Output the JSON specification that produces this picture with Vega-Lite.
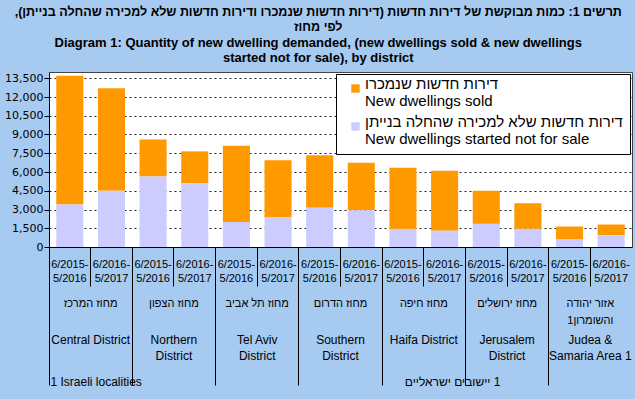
{
  "$schema": "https://vega.github.io/schema/vega-lite/v6.json",
  "width": 583,
  "height": 175,
  "autosize": "none",
  "padding": {"left": 49, "top": 72, "right": 3, "bottom": 152},
  "background": "#A6CAF0",
  "title": {
    "text": [
      "תרשים 1: כמות מבוקשת של דירות חדשות (דירות חדשות שנמכרו ודירות חדשות שלא למכירה שהחלה בנייתן),‏",
      "לפי  מחוז"
    ],
    "subtitle": [
      "Diagram 1:  Quantity of new dwelling demanded, (new  dwellings sold & new dwellings",
      "started not for sale), by district"
    ],
    "anchor": "middle",
    "frame": "bounds",
    "font": "Liberation Sans",
    "fontSize": 12.5,
    "fontWeight": "bold",
    "lineHeight": 15,
    "color": "black",
    "subtitleFont": "Liberation Sans",
    "subtitleFontSize": 13,
    "subtitleFontWeight": "bold",
    "subtitleLineHeight": 15.5,
    "subtitleColor": "black",
    "subtitlePadding": 3,
    "offset": 7
  },
  "datasets": {
    "bars": [
      {"key": "Central 2015/16", "s": "sold", "value": 10300},
      {"key": "Central 2015/16", "s": "nfs", "value": 3400},
      {"key": "Central 2016/17", "s": "sold", "value": 8200},
      {"key": "Central 2016/17", "s": "nfs", "value": 4500},
      {"key": "Northern 2015/16", "s": "sold", "value": 2950},
      {"key": "Northern 2015/16", "s": "nfs", "value": 5650},
      {"key": "Northern 2016/17", "s": "sold", "value": 2550},
      {"key": "Northern 2016/17", "s": "nfs", "value": 5100},
      {"key": "Tel Aviv 2015/16", "s": "sold", "value": 6100},
      {"key": "Tel Aviv 2015/16", "s": "nfs", "value": 2000},
      {"key": "Tel Aviv 2016/17", "s": "sold", "value": 4550},
      {"key": "Tel Aviv 2016/17", "s": "nfs", "value": 2400},
      {"key": "Southern 2015/16", "s": "sold", "value": 4200},
      {"key": "Southern 2015/16", "s": "nfs", "value": 3150},
      {"key": "Southern 2016/17", "s": "sold", "value": 3800},
      {"key": "Southern 2016/17", "s": "nfs", "value": 2950},
      {"key": "Haifa 2015/16", "s": "sold", "value": 4900},
      {"key": "Haifa 2015/16", "s": "nfs", "value": 1450},
      {"key": "Haifa 2016/17", "s": "sold", "value": 4800},
      {"key": "Haifa 2016/17", "s": "nfs", "value": 1300},
      {"key": "Jerusalem 2015/16", "s": "sold", "value": 2650},
      {"key": "Jerusalem 2015/16", "s": "nfs", "value": 1850},
      {"key": "Jerusalem 2016/17", "s": "sold", "value": 2050},
      {"key": "Jerusalem 2016/17", "s": "nfs", "value": 1450},
      {"key": "Judea 2015/16", "s": "sold", "value": 1050},
      {"key": "Judea 2015/16", "s": "nfs", "value": 600},
      {"key": "Judea 2016/17", "s": "sold", "value": 850},
      {"key": "Judea 2016/17", "s": "nfs", "value": 950}
    ],
    "districts": [
      {"he": "מחוז המרכז", "en": "Central District"},
      {"he": "מחוז הצפון", "en": "Northern|District"},
      {"he": "מחוז תל אביב", "en": "Tel Aviv|District"},
      {"he": "מחוז הדרום", "en": "Southern|District"},
      {"he": "מחוז חיפה", "en": "Haifa District"},
      {"he": "מחוז ירושלים", "en": "Jerusalem|District"},
      {"he": "אזור יהודה|והשומרון1", "en": "Judea &|Samaria Area 1"}
    ]
  },
  "layer": [
    {
      "data": {"name": "bars"},
      "mark": {"type": "bar", "width": {"band": 0.65}},
      "encoding": {
        "x": {
          "field": "key",
          "type": "nominal",
          "sort": null,
          "scale": {"type": "band", "paddingInner": 0, "paddingOuter": 0},
          "axis": {
            "orient": "bottom",
            "title": null,
            "grid": false,
            "labelExpr": "indexof(datum.value, '2015/16') >= 0 ? ['6/2015-', '5/2016'] : ['6/2016-', '5/2017']",
            "labelAngle": 0,
            "labelFont": "Liberation Sans",
            "labelFontSize": 11,
            "labelLineHeight": 14.5,
            "labelBaseline": "top",
            "labelPadding": -28,
            "labelColor": "black",
            "labelOverlap": false,
            "labelBound": false,
            "labelFlush": false,
            "tickSize": 39,
            "tickColor": "black",
            "bandPosition": 0,
            "domainColor": "black"
          }
        },
        "y": {
          "field": "value",
          "type": "quantitative",
          "stack": "zero",
          "scale": {"domain": [0, 14000], "nice": false},
          "axis": {
            "title": null,
            "values": [0, 1500, 3000, 4500, 6000, 7500, 9000, 10500, 12000, 13500],
            "format": ",.0f",
            "labelFont": "DejaVu Sans",
            "labelFontSize": 11,
            "labelColor": "black",
            "labelPadding": 1,
            "tickSize": 5,
            "tickColor": "black",
            "domainColor": "black",
            "grid": true,
            "gridColor": "#222222",
            "gridDash": [2, 3],
            "gridOpacity": 1
          }
        },
        "color": {
          "field": "s",
          "type": "nominal",
          "scale": {"domain": ["sold", "nfs"], "range": ["#FF9900", "#CCCCFF"]},
          "legend": {
            "title": null,
            "orient": "top-right",
            "offset": 2,
            "fillColor": "white",
            "strokeColor": "black",
            "padding": 7,
            "labelExpr": "datum.value == 'sold' ? ['דירות חדשות שנמכרו', 'New dwellings sold'] : ['דירות חדשות שלא למכירה שהחלה בנייתן', 'New dwellings started not for sale']",
            "labelFont": "Liberation Sans",
            "labelFontSize": 15,
            "labelColor": "black",
            "labelLimit": 500,
            "labelBaseline": "alphabetic",
            "labelOffset": 2,
            "rowPadding": 5,
            "symbolType": "square",
            "symbolSize": 70,
            "symbolStrokeWidth": 0,
            "symbolOffset": 5
          }
        },
        "order": {"field": "s", "sort": "ascending"}
      }
    },
    {
      "data": {"name": "districts"},
      "mark": {"type": "bar", "opacity": 0},
      "encoding": {
        "x": {
          "field": "he",
          "type": "nominal",
          "sort": null,
          "scale": {"type": "band", "paddingInner": 0, "paddingOuter": 0},
          "axis": {
            "orient": "bottom",
            "title": "‏1 יישובים ישראליים",
            "titleX": 451,
            "titleY": 134.5,
            "titleAlign": "right",
            "titleAnchor": "start",
            "titleBaseline": "middle",
            "titleAngle": 0,
            "titleFont": "Liberation Sans",
            "titleFontSize": 12,
            "titleFontWeight": "normal",
            "titleColor": "black",
            "grid": false,
            "domain": false,
            "labelExpr": "split(datum.value, '|')",
            "labelAngle": 0,
            "labelFont": "Liberation Sans",
            "labelFontSize": 11,
            "labelLineHeight": 17,
            "labelBaseline": "top",
            "labelPadding": -87.5,
            "labelColor": "black",
            "labelOverlap": false,
            "labelBound": false,
            "labelFlush": false,
            "tickSize": 138,
            "tickColor": "black",
            "bandPosition": 0
          }
        }
      }
    },
    {
      "data": {"name": "districts"},
      "mark": {"type": "bar", "opacity": 0},
      "encoding": {
        "x": {
          "field": "en",
          "type": "nominal",
          "sort": null,
          "scale": {"type": "band", "paddingInner": 0, "paddingOuter": 0},
          "axis": {
            "orient": "bottom",
            "title": "1 Israeli localities",
            "titleX": 1,
            "titleY": 134.5,
            "titleAlign": "left",
            "titleAnchor": "start",
            "titleBaseline": "middle",
            "titleAngle": 0,
            "titleFont": "Liberation Sans",
            "titleFontSize": 12,
            "titleFontWeight": "normal",
            "titleColor": "black",
            "grid": false,
            "domain": false,
            "ticks": false,
            "tickSize": 0,
            "labelExpr": "split(datum.value, '|')",
            "labelAngle": 0,
            "labelFont": "Liberation Sans",
            "labelFontSize": 12,
            "labelLineHeight": 16,
            "labelBaseline": "top",
            "labelPadding": 87,
            "labelColor": "black",
            "labelOverlap": false,
            "labelBound": false,
            "labelFlush": false
          }
        }
      }
    }
  ],
  "resolve": {"scale": {"x": "independent"}, "axis": {"x": "independent"}},
  "config": {
    "view": {"fill": "white", "stroke": "#444444"}
  }
}
